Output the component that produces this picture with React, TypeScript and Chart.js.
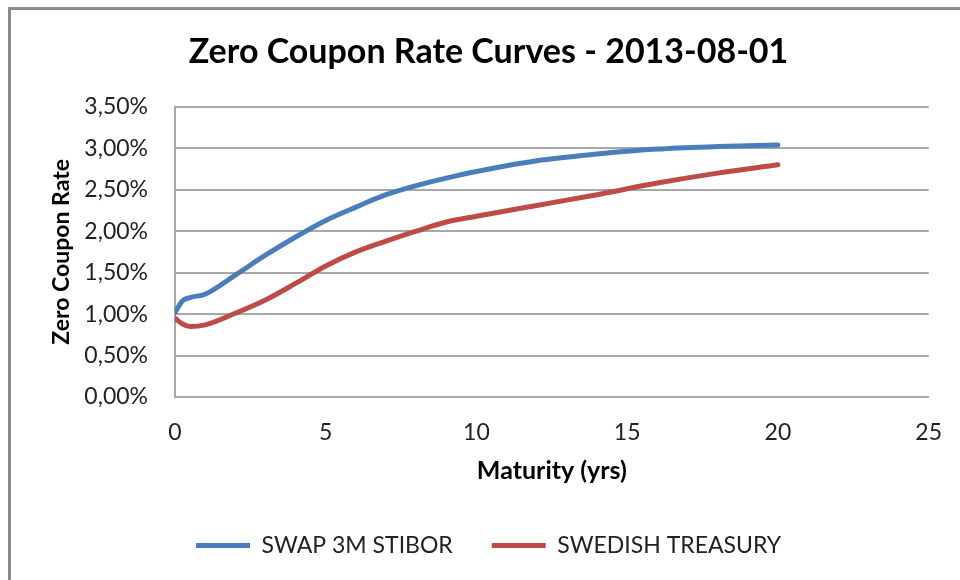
import React, { useEffect, useRef } from "react";
import { Chart, registerables } from "chart.js";

Chart.register(...registerables);

const chartTitle = "Zero Coupon Rate Curves - 2013-08-01";
const xAxisTitle = "Maturity (yrs)";
const yAxisTitle = "Zero Coupon Rate";
const seriesNames = ["SWAP 3M STIBOR", "SWEDISH TREASURY"];
const seriesColors = ["#4a7ebb", "#be4b48"];

const maturities = [0, 0.25, 0.5, 1, 2, 3, 4, 5, 6, 7, 8, 9, 10, 12, 14, 16, 18, 20];
const swapStibor = [1.02, 1.16, 1.2, 1.24, 1.47, 1.71, 1.93, 2.13, 2.29, 2.44, 2.55, 2.64, 2.72, 2.85, 2.93, 2.99, 3.02, 3.04];
const swedishTreasury = [0.95, 0.88, 0.85, 0.87, 1.01, 1.17, 1.37, 1.58, 1.75, 1.88, 2.0, 2.11, 2.18, 2.31, 2.44, 2.58, 2.7, 2.8];

const xMin = 0;
const xMax = 25;
const xStep = 5;
const yMin = 0;
const yMax = 3.5;
const yStep = 0.5;

const FONT = 'Lato, "Noto Sans", sans-serif';

export default function App() {
  const canvasRef = useRef<HTMLCanvasElement | null>(null);

  useEffect(() => {
    const canvas = canvasRef.current;
    if (!canvas) return;
    const series = [swapStibor, swedishTreasury];
    const chart = new Chart(canvas, {
      type: "line",
      data: {
        datasets: series.map((vals, i) => ({
          label: seriesNames[i],
          data: maturities.map((m, j) => ({ x: m, y: vals[j] })),
          borderColor: seriesColors[i],
          backgroundColor: seriesColors[i],
          borderWidth: 5,
          borderCapStyle: "round" as const,
          borderJoinStyle: "round" as const,
          pointRadius: 0,
          pointHoverRadius: 0,
          cubicInterpolationMode: "monotone" as const,
          fill: false,
        })),
      },
      options: {
        responsive: false,
        animation: false,
        layout: { padding: { left: 48, right: 31, top: 0, bottom: 13 } },
        plugins: {
          title: {
            display: true,
            text: chartTitle,
            color: "#000",
            font: { family: FONT, size: 34, weight: "bold" },
            padding: { top: 32, bottom: 34 },
          },
          legend: {
            display: true,
            position: "bottom",
            labels: {
              color: "#222",
              font: { family: FONT, size: 23 },
              boxWidth: 54,
              boxHeight: 5,
              padding: 39,
              generateLabels: (c: any) => {
                const base = Chart.defaults.plugins.legend.labels.generateLabels(c);
                return base.map((l: any, i: number) => ({
                  ...l,
                  fillStyle: seriesColors[i],
                  strokeStyle: seriesColors[i],
                  lineWidth: 0,
                }));
              },
            },
          },
          tooltip: { enabled: false },
        },
        scales: {
          x: {
            type: "linear",
            min: xMin,
            max: xMax,
            afterFit: (s: any) => {
              s.height = 98;
            },
            ticks: {
              stepSize: xStep,
              color: "#222",
              font: { family: FONT, size: 23, lineHeight: 1.5 },
              padding: 18,
            },
            grid: { display: false, drawTicks: false },
            border: { display: true, color: "#a8a8a8", width: 2 },
            title: {
              display: true,
              text: xAxisTitle,
              color: "#000",
              font: { family: FONT, size: 25, weight: "bold" },
              padding: { top: 0, bottom: 9 },
            },
          },
          y: {
            type: "linear",
            min: yMin,
            max: yMax,
            afterFit: (s: any) => {
              s.width = 127;
            },
            ticks: {
              stepSize: yStep,
              color: "#222",
              font: { family: FONT, size: 23 },
              padding: 27,
              callback: (v: any) => Number(v).toFixed(2).replace(".", ",") + "%",
            },
            grid: { display: true, drawTicks: false, color: "#a8a8a8", lineWidth: 2 },
            border: { display: true, color: "#a8a8a8", width: 2 },
            title: {
              display: true,
              text: yAxisTitle,
              color: "#000",
              font: { family: FONT, size: 23, weight: "bold" },
              padding: { top: 0, bottom: 0 },
            },
          },
        },
      },
    } as any);
    return () => chart.destroy();
  }, []);

  return (
    <div style={{ position: "absolute", left: 0, top: 0, width: 960, height: 580, background: "#fff", overflow: "hidden" }}>
      <div
        style={{
          position: "absolute",
          left: 8,
          top: 7,
          width: 960,
          height: 580,
          borderLeft: "3px solid #8c8c8c",
          borderTop: "3px solid #8c8c8c",
          boxSizing: "border-box",
        }}
      />
      <canvas ref={canvasRef} width={960} height={580} style={{ position: "absolute", left: 0, top: 0 }} />
    </div>
  );
}
